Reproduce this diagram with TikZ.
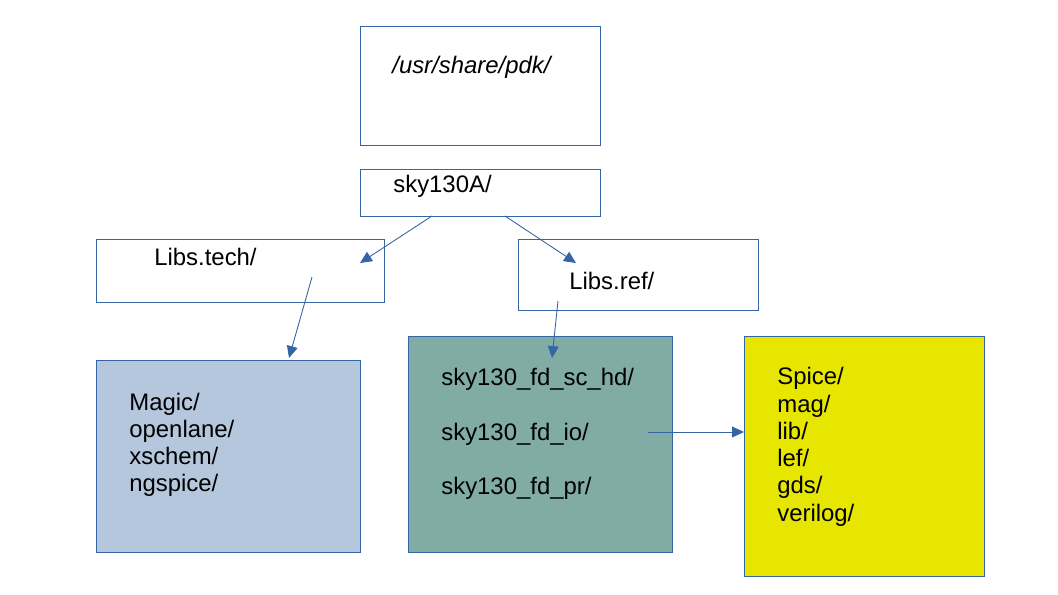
\documentclass[tikz,border=0pt]{standalone}
\usepackage{fontspec}
\setmainfont{Liberation Sans}
\usetikzlibrary{arrows.meta,calc}
\definecolor{pdkblue}{HTML}{3465A4}
\definecolor{techfill}{HTML}{B4C7DC}
\definecolor{reffill}{HTML}{81ACA6}
\definecolor{viewfill}{HTML}{E6E600}

\begin{document}
\begin{tikzpicture}[->,>={Triangle[length=6.8pt,width=6.2pt]},
	box/.style={draw=pdkblue,line width=0.5pt,anchor=north west,inner sep=0pt,outer sep=0pt},
	txt/.style={anchor=base west,inner sep=0pt,font=\fontsize{13.6}{15.5}\selectfont},
	lst/.style={txt,text width=5cm,align=left},
	every edge/.style={draw=pdkblue,line width=0.5pt}]
		\useasboundingbox (0,0) rectangle (21.16,-11.9);
		% boxes
		\node[box,minimum width=4.8cm,minimum height=2.38cm] (pdk) at (7.2,-0.52) {};
		\node[box,minimum width=4.8cm,minimum height=0.94cm] (sky) at (7.2,-3.38) {};
		\node[box,minimum width=5.76cm,minimum height=1.26cm] (tech) at (1.92,-4.78) {};
		\node[box,minimum width=4.8cm,minimum height=1.42cm] (ref) at (10.36,-4.78) {};
		\node[box,fill=techfill,minimum width=5.28cm,minimum height=3.84cm] (tools) at (1.92,-7.2) {};
		\node[box,fill=reffill,minimum width=5.28cm,minimum height=4.32cm] (libs) at (8.16,-6.72) {};
		\node[box,fill=viewfill,minimum width=4.8cm,minimum height=4.8cm] (views) at (14.88,-6.72) {};
		% texts
		\node[txt,font=\fontsize{13.6}{15.5}\selectfont\itshape] (pdktext) at (7.84,-1.47) {/usr/share/pdk/};
		\node[txt] (skytext) at (7.86,-3.86) {sky130A/};
		\node[txt] (techtext) at (3.08,-5.32) {Libs.tech/};
		\node[txt] (reftext) at (11.38,-5.8) {Libs.ref/};
		\node[lst] (toolstext) at (2.58,-8.2) {Magic/\\openlane/\\xschem/\\ngspice/};
		\node[lst] (libstext) at (8.82,-7.72) {sky130\_fd\_sc\_hd/\\[\baselineskip]sky130\_fd\_io/\\[\baselineskip]sky130\_fd\_pr/};
		\node[lst] (viewstext) at (15.54,-7.7) {Spice/\\mag/\\lib/\\lef/\\gds/\\verilog/};
		% arrows
		\path ($(sky.south)+(-0.96,0)$) edge ($(tech.north east)+(-0.48,-0.48)$);
		\path ($(sky.south)+(0.5,0)$) edge ($(ref.north west)+(1.16,-0.48)$);
		\path ($(tech.north east)+(-1.44,-0.76)$) edge ($(tools.north east)+(-1.42,0.04)$);
		\path ($(ref.south west)+(0.8,0.18)$) edge ($(libs.north west)+(2.88,-0.44)$);
		\path ($(libs.north east)+(-0.48,-1.92)$) edge ($(views.north west)+(0,-1.92)$);
		\end{tikzpicture}
\end{document}
